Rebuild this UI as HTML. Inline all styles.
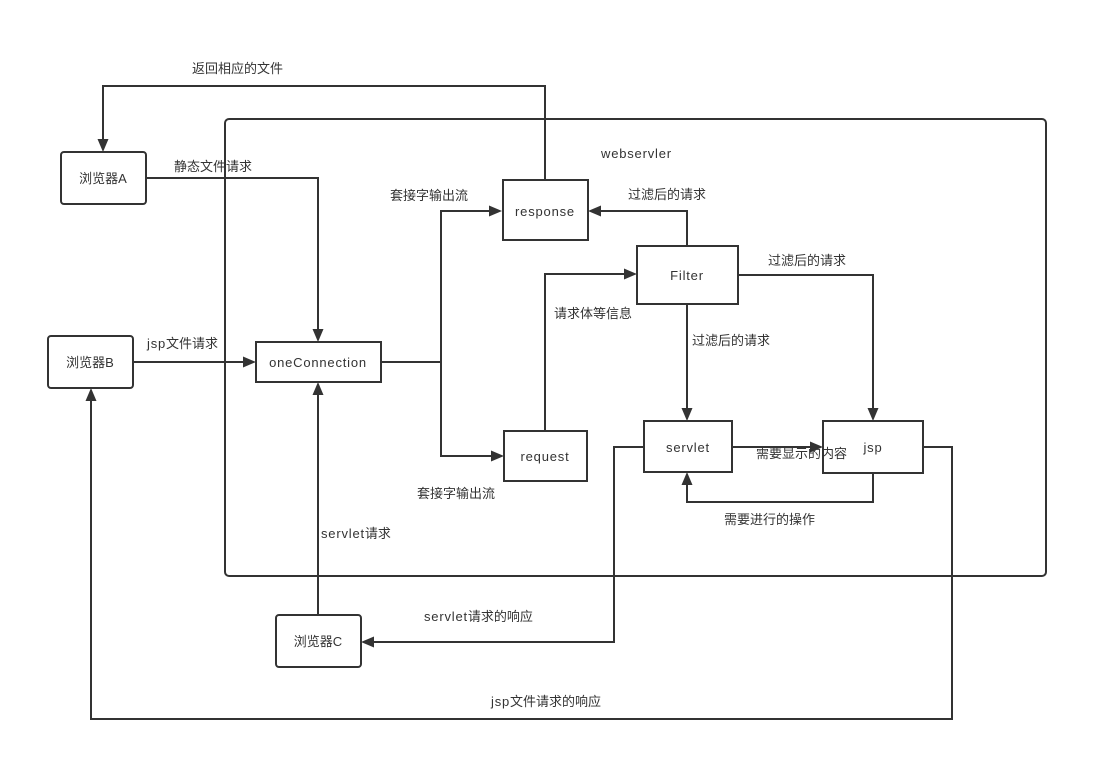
<!DOCTYPE html>
<html>
<head>
<meta charset="utf-8">
<style>
  html,body{margin:0;padding:0;background:#fff;}
  svg{display:block;}
  text{font-family:"Liberation Sans","Noto Sans CJK SC",sans-serif;font-size:13px;fill:#333;}
  .l{letter-spacing:0.8px;}
</style>
</head>
<body>
<svg width="1108" height="782" viewBox="0 0 1108 782" xmlns="http://www.w3.org/2000/svg">
  <rect x="0" y="0" width="1108" height="782" fill="#fff"/>
  <!-- container -->
  <rect x="225" y="119" width="821" height="457" rx="4" fill="none" stroke="#333" stroke-width="2"/>

  <g fill="none" stroke="#333" stroke-width="2">
    <path d="M545,180 V86 H103 V141"/>
    <path d="M146,178 H318 V331"/>
    <path d="M133,362 H245"/>
    <path d="M318,615 V393"/>
    <path d="M381,362 H441 V211 H491"/>
    <path d="M441,362 V456 H493"/>
    <path d="M545,431 V274 H626"/>
    <path d="M687,246 V211 H599"/>
    <path d="M738,275 H873 V410"/>
    <path d="M687,304 V410"/>
    <path d="M732,447 H812"/>
    <path d="M873,473 V502 H687 V483"/>
    <path d="M644,447 H614 V642 H372"/>
    <path d="M923,447 H952 V719 H91 V399"/>
  </g>

  <g fill="#333">
    <polygon points="103,152 97.5,139 108.5,139"/>
    <polygon points="318,342 312.5,329 323.5,329"/>
    <polygon points="256,362 243,356.5 243,367.5"/>
    <polygon points="318,382 312.5,395 323.5,395"/>
    <polygon points="502,211 489,205.5 489,216.5"/>
    <polygon points="504,456 491,450.5 491,461.5"/>
    <polygon points="637,274 624,268.5 624,279.5"/>
    <polygon points="588,211 601,205.5 601,216.5"/>
    <polygon points="873,421 867.5,408 878.5,408"/>
    <polygon points="687,421 681.5,408 692.5,408"/>
    <polygon points="823,447 810,441.5 810,452.5"/>
    <polygon points="687,472 681.5,485 692.5,485"/>
    <polygon points="361,642 374,636.5 374,647.5"/>
    <polygon points="91,388 85.5,401 96.5,401"/>
  </g>

  <!-- boxes -->
  <g fill="#fff" stroke="#333" stroke-width="2">
    <rect x="61" y="152" width="85" height="52" rx="3"/>
    <rect x="48" y="336" width="85" height="52" rx="3"/>
    <rect x="276" y="615" width="85" height="52" rx="3"/>
    <rect x="256" y="342" width="125" height="40"/>
    <rect x="503" y="180" width="85" height="60"/>
    <rect x="637" y="246" width="101" height="58"/>
    <rect x="504" y="431" width="83" height="50"/>
    <rect x="644" y="421" width="88" height="51"/>
    <rect x="823" y="421" width="100" height="52"/>
  </g>

  <!-- node labels -->
  <g text-anchor="middle">
    <text x="103" y="183">浏览器A</text>
    <text x="90" y="367">浏览器B</text>
    <text x="318" y="646">浏览器C</text>
    <text x="318" y="367" class="l">oneConnection</text>
    <text x="545" y="216" class="l">response</text>
    <text x="687" y="280" class="l">Filter</text>
    <text x="545" y="461" class="l">request</text>
    <text x="688" y="452" class="l">servlet</text>
    <text x="873" y="452" class="l">jsp</text>
  </g>

  <!-- edge labels -->
  <text x="192" y="73">返回相应的文件</text>
  <text x="174" y="171">静态文件请求</text>
  <text x="147" y="348"><tspan class="l">jsp</tspan>文件请求</text>
  <text x="601" y="158" class="l">webservler</text>
  <text x="390" y="200">套接字输出流</text>
  <text x="628" y="199">过滤后的请求</text>
  <text x="768" y="265">过滤后的请求</text>
  <text x="554" y="318">请求体等信息</text>
  <text x="692" y="345">过滤后的请求</text>
  <text x="417" y="498">套接字输出流</text>
  <text x="756" y="458">需要显示的内容</text>
  <text x="724" y="524">需要进行的操作</text>
  <text x="321" y="538"><tspan class="l">servlet</tspan>请求</text>
  <text x="424" y="621"><tspan class="l">servlet</tspan>请求的响应</text>
  <text x="491" y="706"><tspan class="l">jsp</tspan>文件请求的响应</text>
</svg>
</body>
</html>
